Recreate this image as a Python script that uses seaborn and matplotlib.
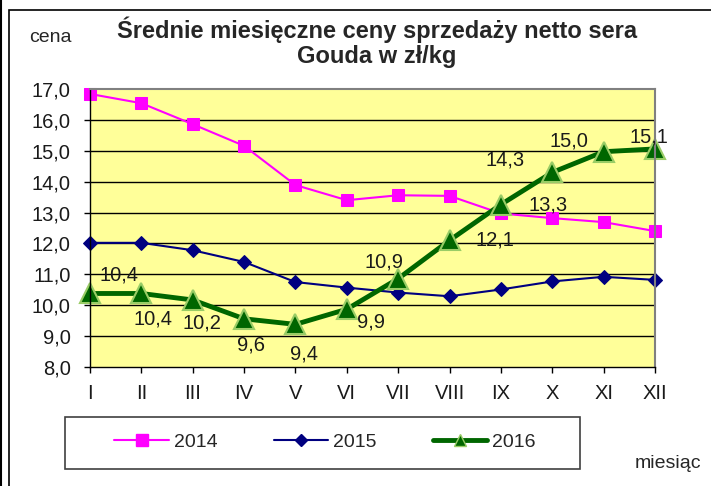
import pandas as pd
import matplotlib
matplotlib.use("Agg")
import matplotlib.pyplot as plt
import seaborn as sns
from matplotlib.lines import Line2D
from matplotlib.patches import Rectangle


# Data
months = ["I", "II", "III", "IV", "V", "VI", "VII", "VIII", "IX", "X", "XI", "XII"]
prices_2014 = [16.84, 16.54, 15.86, 15.16, 13.89, 13.40, 13.56, 13.54, 12.97, 12.82, 12.69, 12.40]
prices_2015 = [12.02, 12.02, 11.78, 11.40, 10.75, 10.57, 10.41, 10.29, 10.51, 10.77, 10.92, 10.82]
prices_2016 = [10.38, 10.38, 10.17, 9.56, 9.38, 9.87, 10.86, 12.10, 13.26, 14.30, 14.97, 15.06]
y_ticks = [8, 9, 10, 11, 12, 13, 14, 15, 16, 17]

df = pd.DataFrame({"m": range(len(months)), "2014": prices_2014,
                   "2015": prices_2015, "2016": prices_2016})

sns.set_style("white")
plt.rcParams["font.family"] = ["Liberation Sans", "DejaVu Sans"]

fig = plt.figure(figsize=(7.11, 4.86), dpi=100)
ax = fig.add_axes([90 / 711, 1 - 367 / 486, 565 / 711, 278 / 486])
ax.set_facecolor("#FFFF99")

# series
sns.lineplot(x="m", y="2014", data=df, ax=ax, color="#FF00FF", linewidth=1.5,
             marker="s", markersize=8, markeredgecolor="#FF00FF", clip_on=False)
sns.lineplot(x="m", y="2015", data=df, ax=ax, color="#000080", linewidth=1.5,
             marker="D", markersize=7, markeredgecolor="#000080", clip_on=False)
sns.lineplot(x="m", y="2016", data=df, ax=ax, color="#006600", linewidth=3.5,
             marker="^", markersize=14, markeredgecolor="#99CC66",
             markeredgewidth=1.5, clip_on=False)

# data labels for 2016 (pixel offsets from markers)
label_offsets = [(29, 18), (12, -26), (9, -23), (7, -26), (9, -30), (24, -13),
                 (-14, 17), (45, 0), (47, 0), (-47, 12), (-35, 11), (-6, 12)]
for i, v in enumerate(prices_2016):
    ax.annotate(f"{v:.1f}".replace(".", ","), (i, v), xytext=label_offsets[i],
                textcoords="offset pixels", ha="center", va="center",
                fontsize=14.5, color="#1a1a1a")

ax.set_xlim(0, 11)
ax.set_ylim(8, 17)
ax.set_xticks(range(len(months)))
ax.set_xticklabels(months, fontsize=14.5)
ax.set_yticks(y_ticks)
ax.set_yticklabels([f"{t:.1f}".replace(".", ",") for t in y_ticks], fontsize=14.5)
ax.set_xlabel("")
ax.set_ylabel("")
ax.tick_params(axis="both", direction="out", length=4, width=1, color="black",
               colors="#1a1a1a", bottom=True, left=True)
ax.tick_params(axis="y", pad=10)
ax.tick_params(axis="x", pad=8)
ax.grid(False)
for t in y_ticks[1:-1]:
    ax.axhline(t, color="black", linewidth=1, zorder=0.5)

for side in ["top", "right"]:
    ax.spines[side].set_color("#808080")
    ax.spines[side].set_linewidth(1.5)
for side in ["left", "bottom"]:
    ax.spines[side].set_color("black")
    ax.spines[side].set_linewidth(1)

# legend (frame drawn separately)
handles = [
    Line2D([], [], color="#FF00FF", linewidth=1.5, marker="s", markersize=9),
    Line2D([], [], color="#000080", linewidth=1.5, marker="D", markersize=6),
    Line2D([], [], color="#006600", linewidth=3.5, marker="^", markersize=9,
           markeredgecolor="#99CC66", markeredgewidth=1),
]
fig.legend(handles, ["2014", "2015", "2016"], loc="center",
           bbox_to_anchor=(325 / 711, 1 - 442 / 486), ncol=3,
           fontsize=14, frameon=False, handlelength=2.8,
           handletextpad=0.25, columnspacing=2.9)
fig.patches.append(Rectangle((65 / 711, 1 - 469 / 486), 515 / 711, 52 / 486,
                             transform=fig.transFigure, fill=False,
                             edgecolor="#404040", linewidth=1.2))

# texts
fig.text(377 / 711, 1 - 30 / 486, "Średnie miesięczne ceny sprzedaży netto sera",
         ha="center", va="center", fontsize=17, fontweight="bold")
fig.text(377 / 711, 1 - 57 / 486, "Gouda w zł/kg",
         ha="center", va="center", fontsize=17, fontweight="bold")
fig.text(72 / 711, 1 - 38 / 486, "cena", ha="right", va="center", fontsize=14)
fig.text(668 / 711, 1 - 463 / 486, "miesiąc", ha="center", va="center", fontsize=14)

# outer frame
fig.patches.append(Rectangle((9 / 711, -0.1), 1.2, 1 - 10 / 486 + 0.1,
                             transform=fig.transFigure, fill=False,
                             edgecolor="black", linewidth=1.2))
fig.lines.append(Line2D([0.5 / 711, 0.5 / 711], [0, 1], transform=fig.transFigure,
                        color="black", linewidth=1.5))

fig.savefig("out.png", dpi=100)
